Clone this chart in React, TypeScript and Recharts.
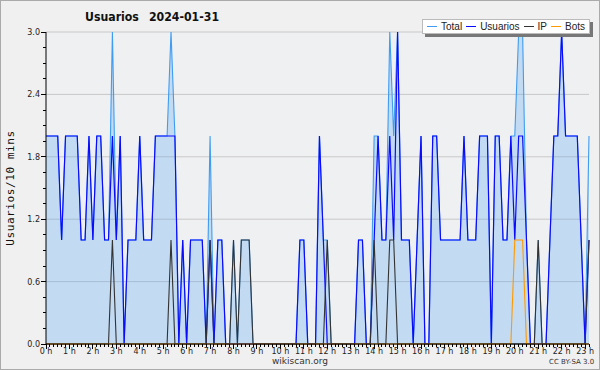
import React from 'react';
import { ComposedChart, Area, Line, XAxis, YAxis, CartesianGrid } from 'recharts';

// one value every 10 minutes, 00:00 -> 23:10
const usuarios = [
  2, 2, 2, 2, 1, 2, 2, 2, 2, 1,
  1, 2, 1, 2, 2, 1, 1, 2, 1, 2,
  0, 1, 1, 1, 2, 1, 1, 1, 2, 2,
  2, 2, 2, 2, 0, 1, 0, 1, 1, 1,
  1, 0, 1, 0, 1, 1, 0, 0, 0, 0,
  0, 0, 0, 0, 0, 0, 0, 0, 0, 0,
  0, 0, 0, 0, 0, 1, 1, 0, 0, 0,
  2, 1, 0, 0, 0, 0, 0, 0, 0, 0,
  1, 1, 0, 0, 1, 2, 1, 1, 2, 1,
  3, 1, 1, 1, 0, 1, 2, 0, 0, 2,
  2, 1, 1, 1, 1, 1, 1, 2, 1, 1,
  1, 2, 2, 2, 0, 2, 2, 1, 1, 2,
  1, 2, 2, 1, 0, 0, 0, 0, 0, 1,
  2, 2, 3, 2, 2, 2, 2, 1, 0, 1,
];

const ip = [
  0, 0, 0, 0, 0, 0, 0, 0, 0, 0,
  0, 0, 0, 0, 0, 0, 0, 1, 0, 0,
  0, 0, 0, 0, 0, 0, 0, 0, 0, 0,
  0, 0, 1, 0, 0, 0, 0, 0, 0, 0,
  0, 0, 1, 0, 0, 0, 0, 0, 1, 0,
  1, 1, 1, 0, 0, 0, 0, 0, 0, 0,
  0, 0, 0, 0, 0, 0, 0, 0, 0, 0,
  0, 0, 1, 0, 0, 0, 0, 0, 0, 0,
  0, 0, 0, 0, 1, 0, 0, 0, 1, 1,
  0, 0, 0, 0, 0, 0, 0, 0, 0, 0,
  0, 0, 0, 0, 0, 0, 0, 0, 0, 0,
  0, 0, 0, 0, 0, 0, 0, 0, 0, 0,
  0, 0, 0, 0, 0, 0, 1, 0, 0, 0,
  0, 0, 0, 0, 0, 0, 0, 0, 0, 1,
];

const bots = [
  0, 0, 0, 0, 0, 0, 0, 0, 0, 0,
  0, 0, 0, 0, 0, 0, 0, 0, 0, 0,
  0, 0, 0, 0, 0, 0, 0, 0, 0, 0,
  0, 0, 0, 0, 0, 0, 0, 0, 0, 0,
  0, 0, 0, 0, 0, 0, 0, 0, 0, 0,
  0, 0, 0, 0, 0, 0, 0, 0, 0, 0,
  0, 0, 0, 0, 0, 0, 0, 0, 0, 0,
  0, 0, 0, 0, 0, 0, 0, 0, 0, 0,
  0, 0, 0, 0, 0, 0, 0, 0, 0, 0,
  0, 0, 0, 0, 0, 0, 0, 0, 0, 0,
  0, 0, 0, 0, 0, 0, 0, 0, 0, 0,
  0, 0, 0, 0, 0, 0, 0, 0, 0, 0,
  1, 1, 1, 0, 0, 0, 0, 0, 0, 0,
  0, 0, 0, 0, 0, 0, 0, 0, 0, 0,
];

const total = [
  2, 2, 2, 2, 1, 2, 2, 2, 2, 1,
  1, 2, 1, 2, 2, 1, 1, 3, 1, 2,
  0, 1, 1, 1, 2, 1, 1, 1, 2, 2,
  2, 2, 3, 2, 0, 1, 0, 1, 1, 1,
  1, 0, 2, 0, 1, 1, 0, 0, 1, 0,
  1, 1, 1, 0, 0, 0, 0, 0, 0, 0,
  0, 0, 0, 0, 0, 1, 1, 0, 0, 0,
  2, 1, 1, 0, 0, 0, 0, 0, 0, 0,
  1, 1, 0, 0, 2, 2, 1, 1, 3, 2,
  3, 1, 1, 1, 0, 1, 2, 0, 0, 2,
  2, 1, 1, 1, 1, 1, 1, 2, 1, 1,
  1, 2, 2, 2, 0, 2, 2, 1, 1, 2,
  2, 3, 3, 1, 0, 0, 1, 0, 0, 1,
  2, 2, 3, 2, 2, 2, 2, 1, 0, 2,
];

const hourLabels = [
  '0 h', '1 h', '2 h', '3 h', '4 h', '5 h', '6 h', '7 h', '8 h', '9 h', '10 h', '11 h',
  '12 h', '13 h', '14 h', '15 h', '16 h', '17 h', '18 h', '19 h', '20 h', '21 h', '22 h', '23 h',
];
const yLabels = ['0.0', '0.6', '1.2', '1.8', '2.4', '3.0'];
const gridValues = [0.6, 1.2, 1.8, 2.4, 3];

const legendItems = [
  { name: 'Total', color: '#3f9cf2' },
  { name: 'Usuarios', color: '#0a0aff' },
  { name: 'IP', color: '#333333' },
  { name: 'Bots', color: '#ff9900' },
];

const data = usuarios.map((u, i) => ({ i, usuarios: u, ip: ip[i], bots: bots[i], total: total[i] }));

const xTicks = data.map((d) => d.i);
const yTicks = Array.from({ length: 21 }, (_, k) => k * 0.15);

const tickFont = 'DejaVu Sans, sans-serif';

const XTick = ({ x, y, payload }: any) => {
  const v = payload.value;
  const major = v % 6 === 0;
  return (
    <g>
      <line x1={x} x2={x} y1={y} y2={y + (major ? 5 : 3)} stroke="#000" shapeRendering="crispEdges" />
      {major && (
        <text x={x} y={y + 10} textAnchor="middle" fontSize={8} fill="#222" fontFamily={tickFont}>
          {hourLabels[v / 6]}
        </text>
      )}
    </g>
  );
};

const YTick = ({ x, y, payload }: any) => {
  const k = Math.round(payload.value / 0.15);
  const major = k % 4 === 0;
  return (
    <g>
      <line x1={x} x2={x - (major ? 5 : 3)} y1={y} y2={y} stroke="#000" shapeRendering="crispEdges" />
      {major && (
        <text x={x - 6} y={y + 3} textAnchor="end" fontSize={8} fill="#222" fontFamily={tickFont}>
          {yLabels[k / 4]}
        </text>
      )}
    </g>
  );
};

export default function App() {
  return (
    <div style={{ position: 'absolute', left: 0, top: 0, width: 600, height: 370, background: '#f0f0f0', fontFamily: tickFont }}>
      <ComposedChart width={600} height={370} data={data} margin={{ top: 32, right: 11, bottom: 0, left: 0 }}>
        <CartesianGrid vertical={false} horizontalValues={gridValues} stroke="#c8c8c8" fill="#eff0f2" />
        <XAxis
          dataKey="i"
          type="number"
          domain={[0, 139]}
          ticks={xTicks}
          interval={0}
          height={26}
          tickSize={0}
          tickMargin={0}
          tickLine={false}
          tick={<XTick />}
          axisLine={{ stroke: '#000' }}
        />
        <YAxis
          type="number"
          domain={[0, 3]}
          ticks={yTicks}
          interval={0}
          width={46}
          tickSize={0}
          tickMargin={0}
          tickLine={false}
          tick={<YTick />}
          axisLine={{ stroke: '#000' }}
        />
        <Area type="linear" dataKey="total" stroke="#3f9cf2" fill="#3f9cf2" fillOpacity={0.25} strokeWidth={1.1} dot={false} isAnimationActive={false} />
        <Line type="linear" dataKey="usuarios" stroke="#0a0aff" strokeWidth={1.2} dot={false} isAnimationActive={false} />
        <Line type="linear" dataKey="ip" stroke="#333333" strokeWidth={1.1} dot={false} isAnimationActive={false} />
        <Line type="linear" dataKey="bots" stroke="#ff9900" strokeWidth={1.1} dot={false} isAnimationActive={false} />
      </ComposedChart>

      <div style={{ position: 'absolute', left: 85, top: 10, fontSize: 12.2, fontWeight: 'bold', color: '#111', whiteSpace: 'nowrap', fontFamily: 'DejaVu Sans Condensed, DejaVu Sans, sans-serif' }}>
        <span>Usuarios</span>
        <span style={{ marginLeft: 10 }}>2024-01-31</span>
      </div>

      <div style={{ position: 'absolute', left: 10, top: 188, width: 0, height: 0 }}>
        <div style={{ position: 'absolute', transform: 'translate(-50%, -50%) rotate(-90deg)', whiteSpace: 'nowrap', fontSize: 11, letterSpacing: 0.6, color: '#111', fontFamily: 'DejaVu Sans Mono, monospace' }}>
          Usuarios/10 mins
        </div>
      </div>

      <div style={{ position: 'absolute', left: 422, top: 19, width: 168, height: 15, background: '#fff', border: '1px solid #bbb', boxShadow: '3px 3px 0 #777', display: 'flex', alignItems: 'center', paddingLeft: 4, boxSizing: 'border-box' }}>
        {legendItems.map((it) => (
          <div key={it.name} style={{ display: 'flex', alignItems: 'center', marginRight: 4 }}>
            <div style={{ width: 10, height: 1, background: it.color, marginRight: 4 }} />
            <span style={{ fontSize: 10, color: '#222', fontFamily: 'Liberation Sans, sans-serif' }}>{it.name}</span>
          </div>
        ))}
      </div>

      <div style={{ position: 'absolute', left: 0, width: 600, top: 356, textAlign: 'center', fontSize: 9, color: '#333' }}>wikiscan.org</div>
      <div style={{ position: 'absolute', left: 549, top: 358, fontSize: 7, color: '#333' }}>CC BY-SA 3.0</div>

      <div style={{ position: 'absolute', left: 0, top: 0, width: 600, height: 370, border: '1px solid #aaa', boxSizing: 'border-box', pointerEvents: 'none' }} />
    </div>
  );
}
